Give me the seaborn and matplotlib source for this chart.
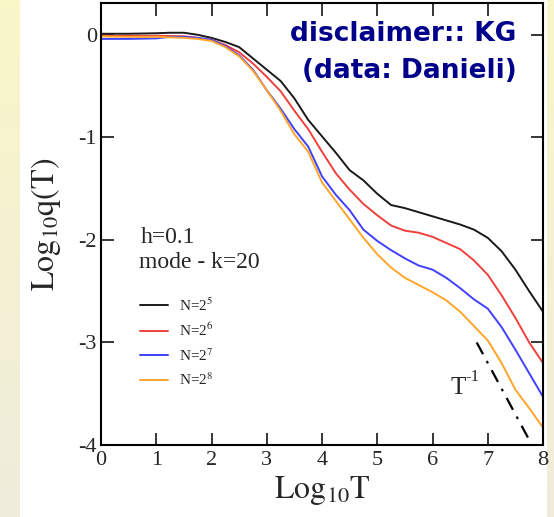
import numpy as np
import pandas as pd
import matplotlib
matplotlib.use("Agg")
import matplotlib.pyplot as plt
from matplotlib.colors import LinearSegmentedColormap
import seaborn as sns

# ---------------- data ----------------
log_T = [0.0, 0.5, 1.0, 1.25, 1.5, 1.75, 2.0, 2.25, 2.5, 2.75, 3.0, 3.25, 3.5, 3.75,
         4.0, 4.25, 4.5, 4.75, 5.0, 5.25, 5.5, 5.75, 6.0, 6.25, 6.5, 6.75,
         7.0, 7.25, 7.5, 7.75, 8.0]
q_N5 = [0.01, 0.01, 0.015, 0.02, 0.02, 0.0, -0.03, -0.07, -0.12, -0.23, -0.34, -0.45, -0.62, -0.83,
        -0.99, -1.15, -1.32, -1.42, -1.55, -1.66, -1.69, -1.73, -1.77, -1.81, -1.85, -1.90,
        -1.98, -2.11, -2.29, -2.50, -2.70]
q_N6 = [-0.01, -0.01, -0.01, -0.012, -0.015, -0.03, -0.05, -0.10, -0.17, -0.28, -0.41, -0.55, -0.74, -0.92,
        -1.14, -1.35, -1.51, -1.65, -1.76, -1.86, -1.91, -1.93, -1.97, -2.03, -2.09, -2.20,
        -2.34, -2.54, -2.76, -3.00, -3.20]
q_N7 = [-0.04, -0.04, -0.035, -0.02, -0.02, -0.03, -0.05, -0.11, -0.20, -0.34, -0.54, -0.72, -0.92, -1.09,
        -1.38, -1.56, -1.71, -1.90, -2.01, -2.10, -2.18, -2.25, -2.29, -2.37, -2.47, -2.58,
        -2.67, -2.85, -3.07, -3.30, -3.53]
q_N8 = [-0.015, -0.02, -0.02, -0.025, -0.03, -0.04, -0.06, -0.12, -0.21, -0.35, -0.54, -0.74, -0.97, -1.14,
        -1.44, -1.62, -1.80, -1.98, -2.14, -2.27, -2.37, -2.44, -2.51, -2.59, -2.70, -2.84,
        -2.98, -3.20, -3.46, -3.64, -3.83]
series_labels = [r"N=2$^{5}$", r"N=2$^{6}$", r"N=2$^{7}$", r"N=2$^{8}$"]
series_colors = ["#1a1a1a", "#f0403c", "#4040ff", "#ffa52a"]

guide_x = [6.8, 7.78]
guide_y = [-3.0, -3.98]

x_ticks = [0, 1, 2, 3, 4, 5, 6, 7, 8]
y_ticks = [0, -1, -2, -3, -4]

# ---------------- style ----------------
sns.set_style("ticks")
plt.rcParams["font.family"] = ["Liberation Serif", "DejaVu Serif"]
plt.rcParams["mathtext.fontset"] = "stix"
plt.rcParams["axes.unicode_minus"] = False

df = pd.DataFrame({
    "logT": log_T * 4,
    "logq": q_N5 + q_N6 + q_N7 + q_N8,
    "N": sum([[lab] * len(log_T) for lab in series_labels], []),
})

fig = plt.figure(figsize=(5.54, 5.17), dpi=100)
fig.patch.set_facecolor("white")

# slide-like yellow strips
grad = np.linspace(0, 1, 100).reshape(-1, 1)
cm = LinearSegmentedColormap.from_list("slide", ["#f9f6c8", "#efecdc"])
for rect in ([0, 0, 20 / 554, 1], [547 / 554, 0, 7 / 554, 1]):
    bax = fig.add_axes(rect)
    bax.imshow(grad, aspect="auto", cmap=cm, extent=[0, 1, 0, 1])
    bax.set_axis_off()

ax = fig.add_axes([101 / 554, (517 - 445) / 517, 442 / 554, 442 / 517])
sns.lineplot(data=df, x="logT", y="logq", hue="N", palette=series_colors,
             hue_order=series_labels, linewidth=1.4, legend=False, ax=ax, sort=False)

ax.plot(guide_x, guide_y, color="black", linewidth=1.6, linestyle=(0, (6, 3.5, 1.2, 3.5)))
ax.text(6.32, -3.5, "T", fontsize=18, ha="left", va="baseline")
ax.annotate("-1", xy=(6.32, -3.5), xytext=(11, 9), textcoords="offset points",
            fontsize=12, ha="left", va="baseline")

ax.set_xlim(0, 8)
ax.set_ylim(-4, 0.31)
ax.set_xticks(x_ticks)
ax.set_yticks(y_ticks)
ax.tick_params(direction="in", length=9, width=1.3, top=True, right=True,
               labelsize=16, pad=4)
ax.tick_params(axis="y", pad=3)
for sp in ax.spines.values():
    sp.set_linewidth(1.5)
    sp.set_color("black")

ax.set_xlabel(r"$\mathrm{Log}_{10}\mathrm{T}$", fontsize=23, labelpad=3)
ax.set_ylabel(r"$\mathrm{Log}_{10}\mathrm{q(T)}$", fontsize=23, labelpad=11)

ax.text(0.09, 0.457, "h=0.1", transform=ax.transAxes, fontsize=17, va="baseline")
ax.text(0.085, 0.40, "mode - k=20", transform=ax.transAxes, fontsize=17, va="baseline")

handles = ax.get_lines()[:4]
leg = ax.legend(handles, series_labels, loc="upper left", bbox_to_anchor=(0.075, 0.35),
                frameon=False, fontsize=11, handlelength=1.8, labelspacing=0.52,
                handletextpad=0.75, borderaxespad=0)

ax.text(0.94, 0.93, "disclaimer:: KG", transform=ax.transAxes, ha="right", va="center",
        fontsize=19, fontweight="bold", color="#00008b", family="DejaVu Sans")
ax.text(0.94, 0.846, "(data: Danieli)", transform=ax.transAxes, ha="right", va="center",
        fontsize=19, fontweight="bold", color="#00008b", family="DejaVu Sans")

fig.savefig("out.png", dpi=100)
